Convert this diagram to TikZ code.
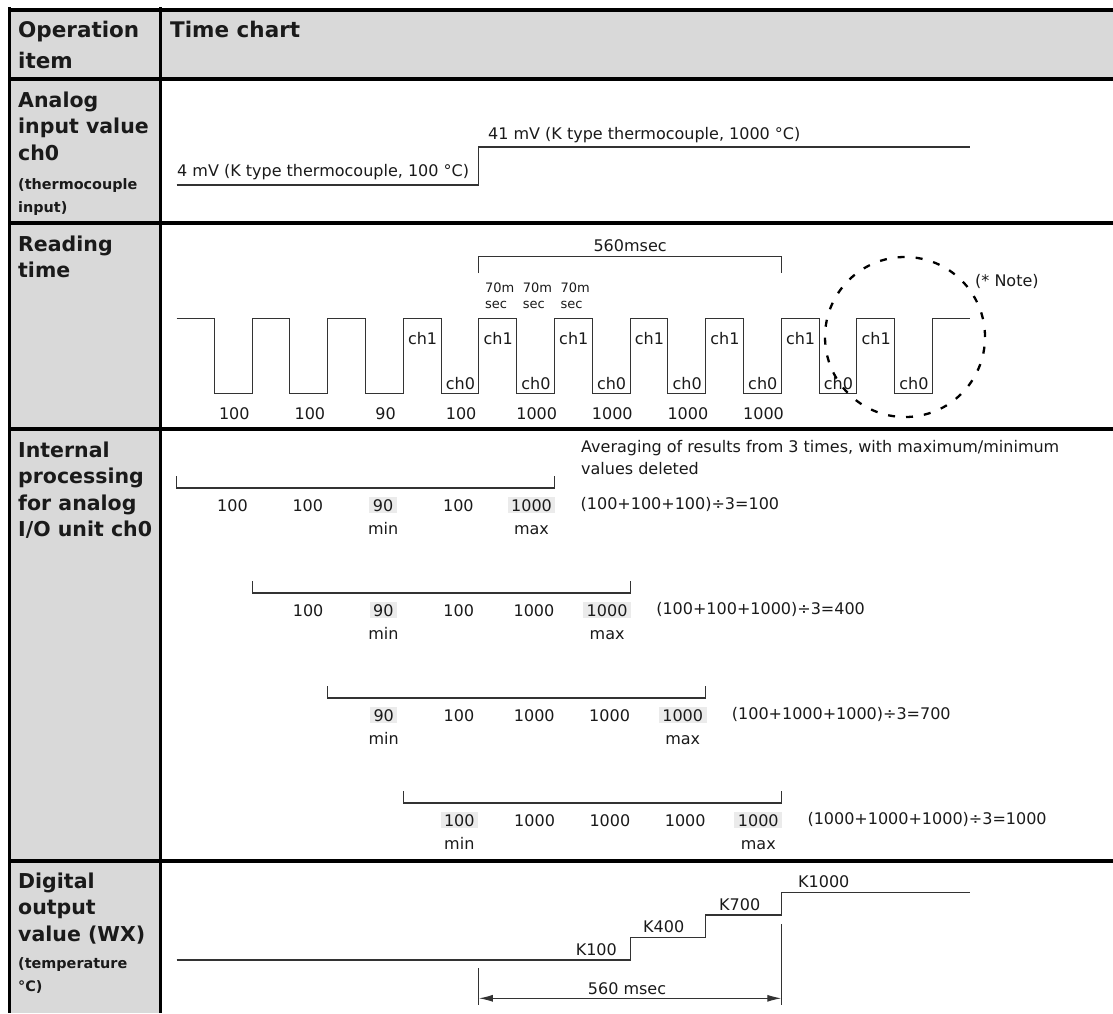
\documentclass[tikz,border=0pt]{standalone}
\usepackage{fontspec}
\setmainfont{DejaVu Sans}
\usetikzlibrary{arrows.meta}
\definecolor{cellgray}{HTML}{D9D9D9}
\definecolor{hlgray}{HTML}{EBEBEB}
\definecolor{ink}{HTML}{1A1A1A}
\def\wo{176.5}
\def\wh{37.8}
\newcommand{\procrow}[8]{%
  \pgfmathsetmacro{\ps}{\wo+\wh*2*#1}%
  \pgfmathsetmacro{\pe}{\ps+\wh*10}%
  \pgfmathsetmacro{\py}{488+105*#1}%
  \coordinate (pl#1) at (\ps,\py);
  \coordinate (pr#1) at (\pe,\py);
  \draw[wave] ([yshift=12pt]pl#1) -- (pl#1) -- (pr#1) -- ([yshift=12pt]pr#1);
  \foreach \v [count=\k from 0] in {#2,#3,#4,#5} {
    \ifnum\k=#7\relax\def\fillc{hlgray}\else\def\fillc{none}\fi
    \node[numtxt,fill=\fillc] (pn#1-\k) at ({\ps+56+75.3*\k},{\py+23}) {\v};
  }
  \node[numtxt,fill=hlgray] (pn#1-4) at ({\pe-23},{\py+23}) {#6};
  \node[body,anchor=base] (pmin#1) at ({\ps+56+75.3*#7},{\py+46.5}) {min};
  \node[body,anchor=base] (pmax#1) at ({\pe-23},{\py+46.5}) {max};
  \node[body] (pf#1) at ({\pe+26},{\py+21.5}) {#8};
}
\begin{document}
\begin{tikzpicture}[x=1pt,y=-1pt,
  rule/.style={line width=3.3pt,black},
  wave/.style={line width=1.1pt,black!80},
  body/.style={inner sep=0pt,anchor=base west,text=ink,font=\fontsize{16}{19}\selectfont},
  numtxt/.style={inner xsep=3.5pt,inner ysep=2pt,anchor=base,text=ink,font=\fontsize{16}{19}\selectfont},
  lblhead/.style={inner sep=0pt,anchor=base west,text=ink,font=\fontsize{21.5}{26}\selectfont\bfseries},
  lblbig/.style={inner sep=0pt,anchor=base west,text=ink,font=\fontsize{20.5}{26}\selectfont\bfseries},
  lblsmall/.style={inner sep=0pt,anchor=base west,text=ink,font=\fontsize{14.4}{17}\selectfont\bfseries},
  txtsm/.style={inner sep=0pt,anchor=base west,text=ink,font=\fontsize{13}{15}\selectfont},
  note/.style={line width=2.3pt,black,dash pattern=on 7pt off 11pt},
  dim/.style={line width=1.1pt,black!80,{Latex[length=14pt,width=7pt]}-{Latex[length=14pt,width=7pt]}}
]
\useasboundingbox (0,0) rectangle (1113,1013);
\fill[white] (0,0) rectangle (1113,1013);
\fill[cellgray] (9.7,10) rectangle (1113,79);
\fill[cellgray] (9.7,79) rectangle (160.7,1013);
% table rules
\draw[rule] (8,10) -- (1113,10);
\foreach \yy in {79,223,429,861} \draw[rule] (8,\yy) -- (1113,\yy);
\draw[rule] (9.7,7) -- (9.7,1013);
\draw[rule] (160.7,7) -- (160.7,1013);

% header
\node[lblhead] (hOp) at (18,37) {Operation};
\node[lblhead] (hItem) at (18,68) {item};
\node[lblhead] (hTime) at (170,37) {Time chart};

% left labels
\node[lblbig] (la1) at (18,107) {Analog};
\node[lblbig] (la2) at (18,133.5) {input value};
\node[lblbig] (la3) at (18,160) {ch0};
\node[lblsmall] (la4) at (18,189) {(thermocouple};
\node[lblsmall] (la5) at (18,212) {input)};
\node[lblbig] (lr1) at (18,251) {Reading};
\node[lblbig] (lr2) at (18,277.5) {time};
\node[lblbig] (li1) at (18,457) {Internal};
\node[lblbig] (li2) at (18,483.5) {processing};
\node[lblbig] (li3) at (18,510) {for analog};
\node[lblbig] (li4) at (18,536.5) {I/O unit ch0};
\node[lblbig] (ld1) at (18,888) {Digital};
\node[lblbig] (ld2) at (18,914.5) {output};
\node[lblbig] (ld3) at (18,941) {value (WX)};
\node[lblsmall] (ld4) at (18,968) {(temperature};
\node[lblsmall] (ld5) at (18,991) {°C)};

% analog input
\draw[wave] (\wo,185) -- ({\wo+\wh*8},185) -- ({\wo+\wh*8},147) -- ({\wo+\wh*21},147);
\node[body] (av1) at (177,176) {4 mV (K type thermocouple, 100 °C)};
\node[body] (av2) at (488,139) {41 mV (K type thermocouple, 1000 °C)};

% reading time waveform
\draw[wave] (\wo,318.3) foreach \m in {0,...,9} {
  -- ({\wo+\wh*(2*\m+1)},318.3) -- ({\wo+\wh*(2*\m+1)},393.3)
  -- ({\wo+\wh*(2*\m+2)},393.3) -- ({\wo+\wh*(2*\m+2)},318.3) }
  -- ({\wo+\wh*21},318.3);
\foreach \k [count=\i] in {6,8,...,18}
  \node[body] (cA\i) at ({\wo+\wh*\k+4.5},344) {ch1};
\foreach \k [count=\i] in {7,9,...,19}
  \node[body] (cB\i) at ({\wo+\wh*\k+4.5},389) {ch0};
\foreach \v/\k [count=\i] in {100/1,100/3,90/5,100/7,1000/9,1000/11,1000/13,1000/15}
  \node[body,anchor=base] (rv\i) at ({\wo+\wh*\k+20},419.5) {\v};
\foreach \k [count=\i] in {8,9,10} {
  \node[txtsm] (ta\i) at ({\wo+\wh*\k+6},292.5) {70m};
  \node[txtsm] (tb\i) at ({\wo+\wh*\k+6},308) {sec};
}
\coordinate (b1) at ({\wo+\wh*8},273);
\coordinate (b2) at ({\wo+\wh*16},273);
\draw[wave] (b1) -- ++(0,-16.3) -| (b2);
\node[body,anchor=base] (bt) at ({\wo+\wh*12},251) {560msec};
\draw[note] (905,337) circle [radius=80pt];
\node[body] (nt) at (975,286) {(* Note)};

% internal processing
\node[body] (avg1) at (581,452.5) {Averaging of results from 3 times, with maximum/minimum};
\node[body] (avg2) at (581,474.5) {values deleted};
\procrow{0}{100}{100}{90}{100}{1000}{2}{(100+100+100)÷3=100}
\procrow{1}{100}{90}{100}{1000}{1000}{1}{(100+100+1000)÷3=400}
\procrow{2}{90}{100}{1000}{1000}{1000}{0}{(100+1000+1000)÷3=700}
\procrow{3}{100}{1000}{1000}{1000}{1000}{0}{(1000+1000+1000)÷3=1000}

% digital output
\draw[wave] (\wo,960) -- ({\wo+\wh*12},960) -- ({\wo+\wh*12},937.3)
  -- ({\wo+\wh*14},937.3) -- ({\wo+\wh*14},915) -- ({\wo+\wh*16},915)
  -- ({\wo+\wh*16},892.3) -- ({\wo+\wh*21},892.3);
\node[body,anchor=base east] (k1) at (617,955.8) {K100};
\node[body] (k2) at (643,932.5) {K400};
\node[body] (k3) at (719,910.8) {K700};
\node[body] (k4) at (798,887.5) {K1000};
\coordinate (m1) at ({\wo+\wh*8},998.3);
\coordinate (m2) at ({\wo+\wh*16},998.3);
\draw[wave] ({\wo+\wh*8},968) -- ({\wo+\wh*8},1005);
\draw[wave] ({\wo+\wh*16},924.3) -- ({\wo+\wh*16},1005);
\draw[dim] (m1) -- (m2);
\node[body,anchor=base] (dt) at (627,994.5) {560 msec};
\end{tikzpicture}
\end{document}
